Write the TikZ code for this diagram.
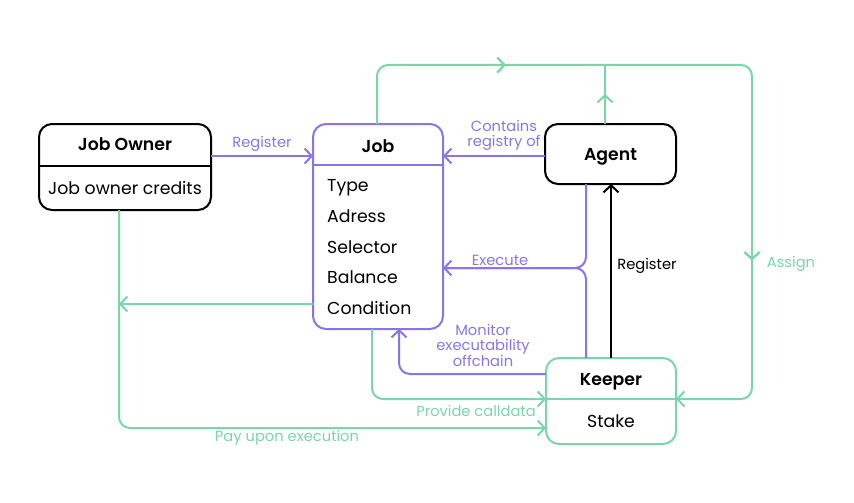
\documentclass[tikz,border=0pt]{standalone}
\usepackage{fontspec}
\setmainfont{Poppins}[BoldFont={Poppins SemiBold}]
\usetikzlibrary{arrows.meta,decorations.markings}
\definecolor{pur}{RGB}{138,117,232}
\definecolor{grn}{RGB}{122,214,168}
\begin{document}
\begin{tikzpicture}[x=1pt,y=-1pt,
  box/.style={draw,line width=2pt,rounded corners=13pt,inner sep=0pt},
  ttl/.style={font=\fontsize{17.3}{19}\selectfont\bfseries,inner sep=0pt,anchor=base},
  txt/.style={font=\fontsize{17.3}{19}\selectfont,inner sep=0pt,anchor=base},
  lbl/.style={font=\fontsize{14.7}{15.5}\selectfont,inner sep=0pt,align=center},
  ln/.style={line width=2pt,rounded corners=11pt},
  tip/.style={-{Straight Barb[length=7pt,width=15pt]}},
  midtip/.style={postaction={decorate},decoration={markings,mark=at position #1 with {\arrow{Straight Barb[length=7pt,width=15pt]}}}}
]
\useasboundingbox (0,0) rectangle (854,503);
% boxes
\node[box,minimum width=172pt,minimum height=86pt] (jo) at (125,167) {};
\node[box,draw=pur,minimum width=130pt,minimum height=205pt] (job) at (378,226.5) {};
\node[box,minimum width=131pt,minimum height=60pt] (ag) at (610.5,154) {};
\node[box,draw=grn,minimum width=130pt,minimum height=86pt] (kp) at (611,401) {};
% dividers
\coordinate (joL) at (39,166); \coordinate (joR) at (211,166);
\draw[line width=2pt] (joL) -- (joR);
\coordinate (jbL) at (313,165); \coordinate (jbR) at (443,165);
\draw[line width=2pt,pur] (jbL) -- (jbR);
\coordinate (kpL) at (546,399); \coordinate (kpR) at (676,399);
\draw[line width=2pt,grn] (kpL) -- (kpR);
% texts
\node[ttl] (jot) at (125,150) {Job Owner};
\node[txt] (joc) at (125,194) {Job owner credits};
\node[ttl] (jbt) at (378,152) {Job};
\node[txt,anchor=base west] (j1) at (327,191) {Type};
\node[txt,anchor=base west] (j2) at (327,222) {Adress};
\node[txt,anchor=base west] (j3) at (327,253) {Selector};
\node[txt,anchor=base west] (j4) at (327,283) {Balance};
\node[txt,anchor=base west] (j5) at (327,314) {Condition};
\node[ttl] (agt) at (610.5,160) {Agent};
\node[ttl] (kpt) at (611,385) {Keeper};
\node[txt] (kps) at (611,427) {Stake};
% coordinates for connectors
\coordinate (a1) at (211,156); \coordinate (a2) at (313,156);
\coordinate (b1) at (545,156); \coordinate (b2) at (443,156);
\coordinate (e1) at (586,184); \coordinate (e2) at (586,268); \coordinate (e3) at (443,268); \coordinate (e4) at (586,358);
\coordinate (m1) at (546,374); \coordinate (m2) at (399,374); \coordinate (m3) at (399,329);
\coordinate (r1) at (611,358); \coordinate (r2) at (611,184);
\coordinate (t1) at (377,124); \coordinate (t2) at (377,65); \coordinate (t3) at (752,65); \coordinate (t4) at (752,399);
\coordinate (u1) at (605,124); \coordinate (u2) at (605,65);
\coordinate (p1) at (372,329); \coordinate (p2) at (372,399);
\coordinate (c1) at (313,304); \coordinate (c2) at (119,304);
\coordinate (q1) at (119,210); \coordinate (q2) at (119,428); \coordinate (q3) at (546,428);
% purple connectors
\draw[ln,pur,tip] (a1) -- (a2);
\node[lbl,text=pur] (la) at (262,144) {Register};
\draw[ln,pur,tip] (b1) -- (b2);
\node[lbl,text=pur] (lb) at (504,135.5) {Contains\\registry of};
\draw[ln,pur,tip] (e1) -- (e2) -- (e3);
\draw[ln,pur] (e4) -- (e2) -- (e3);
\node[lbl,text=pur] (le) at (500,260) {Execute};
\draw[ln,pur,tip] (m1) -- (m2) -- (m3);
\node[lbl,text=pur] (lm) at (483,345) {Monitor\\executability\\offchain};
% black register
\draw[line width=2pt,tip] (r1) -- (r2);
\node[lbl] (lr) at (647,266) {Register};
% green connectors
\draw[ln,grn,tip,midtip=183pt,midtip=620pt] (t1) -- (t2) -- (t3) -- (t4) -- (kpR);
\node[lbl,text=grn] (lt) at (791,264) {Assign};
\draw[ln,grn,midtip=30pt] (u1) -- (u2);
\draw[ln,grn,tip] (p1) -- (p2) -- (kpL);
\node[lbl,text=grn] (lp) at (476,411) {Provide calldata};
\draw[ln,grn,tip] (c1) -- (c2);
\draw[ln,grn,tip] (q1) -- (q2) -- (q3);
\node[lbl,text=grn] (lq) at (287,438) {Pay upon execution};
\end{tikzpicture}
\end{document}
